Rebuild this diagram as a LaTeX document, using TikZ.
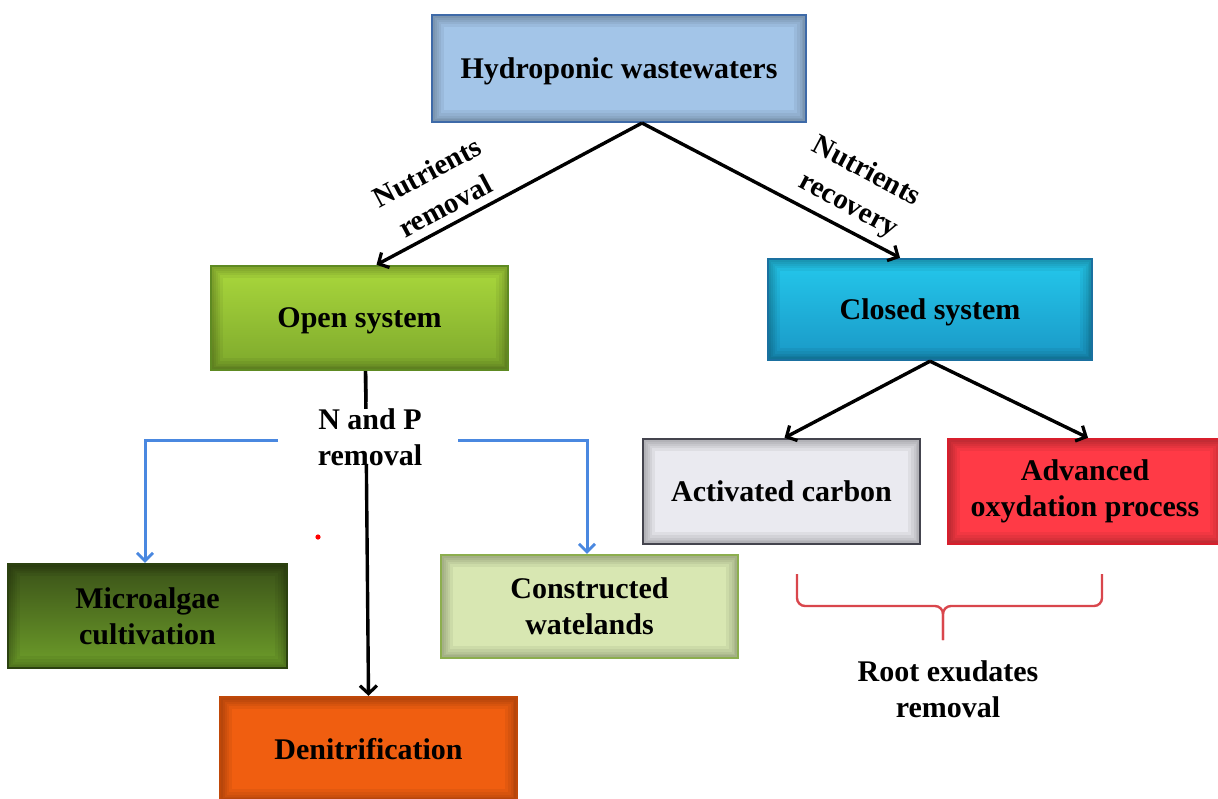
\documentclass[tikz,border=0pt]{standalone}
\usepackage{fontspec}
\setmainfont{Liberation Serif}
\usetikzlibrary{arrows.meta,calc}
\definecolor{hydrofill}{HTML}{A3C5E8}
\definecolor{hydrodraw}{HTML}{3E6AA8}
\definecolor{opentop}{HTML}{AAD83C}
\definecolor{openbot}{HTML}{7DA82C}
\definecolor{opendraw}{HTML}{5E8A22}
\definecolor{closedtop}{HTML}{24C8EC}
\definecolor{closedbot}{HTML}{1A98C6}
\definecolor{closeddraw}{HTML}{1A70A0}
\definecolor{actfill}{HTML}{EAEAF0}
\definecolor{actdraw}{HTML}{44444E}
\definecolor{advfill}{HTML}{FF3A46}
\definecolor{advdraw}{HTML}{D81E2C}
\definecolor{microtop}{HTML}{3A5118}
\definecolor{microbot}{HTML}{6E9E2A}
\definecolor{microdraw}{HTML}{2C4210}
\definecolor{consfill}{HTML}{D8E7B2}
\definecolor{consdraw}{HTML}{8CAE4E}
\definecolor{denfill}{HTML}{F05E10}
\definecolor{dendraw}{HTML}{C04808}
\definecolor{bluearrow}{HTML}{4A88E0}
\definecolor{bracered}{HTML}{D9464C}
\tikzset{
  box/.style={rectangle, line width=1.2pt, align=center, inner sep=2pt,
    font=\fontsize{15}{18}\selectfont\bfseries,
    path picture={
      \foreach \w in {12,9,6.5,4.5,3}{
        \draw[black, opacity=0.05, line width=\w pt] (path picture bounding box.south west) rectangle (path picture bounding box.north east);
      }
    }},
  lbl/.style={align=center, font=\fontsize{15}{18}\selectfont\bfseries, inner sep=1pt},
  rlbl/.style={align=center, font=\fontsize{14.5}{19}\selectfont\bfseries, inner sep=1pt},
  blk/.style={line width=1.7pt, -{Straight Barb[length=4pt,width=8.5pt,line width=1.6pt]}},
  blu/.style={line width=1.5pt, color=bluearrow, -{Straight Barb[length=4pt,width=8pt,line width=1.4pt]}},
  brace/.style={line width=1.2pt, color=bracered, rounded corners=4pt}
}
\begin{document}
\begin{tikzpicture}[x=0.5pt,y=-0.5pt]
\useasboundingbox (0,0) rectangle (1218,798);
\clip (0,0) rectangle (1218,798);
\fill[white] (0,0) rectangle (1218,798);

% boxes
\node[box, fill=hydrofill, draw=hydrodraw, minimum width=187pt, minimum height=53.5pt, text depth=0pt] (hydro) at (619,68.5) {Hydroponic wastewaters};
\node[box, top color=opentop, bottom color=openbot, draw=opendraw, minimum width=148.5pt, minimum height=52pt, text depth=0pt] (open) at (359.5,318) {Open system};
\node[box, top color=closedtop, bottom color=closedbot, draw=closeddraw, minimum width=162pt, minimum height=50.5pt, text depth=0pt] (closed) at (930,309.5) {Closed system};
\node[box, fill=actfill, draw=actdraw, minimum width=138.5pt, minimum height=52.5pt, text depth=0pt] (act) at (781.5,491.5) {Activated carbon};
\node[box, fill=advfill, draw=advdraw, minimum width=137pt, minimum height=52.5pt] (adv) at (1085,491.5) {Advanced\\oxydation process};
\node[box, top color=microtop, bottom color=microbot, draw=microdraw, minimum width=139.5pt, minimum height=52pt] (micro) at (147.5,616) {Microalgae\\cultivation};
\node[box, fill=consfill, draw=consdraw, minimum width=148.5pt, minimum height=51.5pt] (cons) at (589.5,606.5) {Constructed\\watelands};
\node[box, fill=denfill, draw=dendraw, minimum width=148.5pt, minimum height=52pt, text depth=0pt] (den) at (368.5,749) {Denitrification};

% arrows from hydroponic
\coordinate (hs) at (642,123);
\coordinate (opentip) at ($(open.north)+(17,0)$);
\coordinate (closedtip) at ($(closed.north)+(-30,0)$);
\draw[blk] (hs) -- (opentip);
\draw[blk] (hs) -- (closedtip);
\node[rlbl, rotate=28] (nrem) at (436,189) {Nutrients\\removal};
\node[rlbl, rotate=-28] (nrec) at (857,189) {Nutrients\\recovery};

% open system to denitrification
\coordinate (os) at ($(open.south)+(6,0)$);
\coordinate (dn) at ($(den.north)+(0,0)$);
\draw[blk] (os) -- (dn);
\node[lbl, fill=white, inner sep=0pt, text depth=0pt] (np) at (370,437) {N and P\\removal};
\draw[line width=1.7pt] (os) -- (366,402);

% blue branches
\coordinate (bl) at (278,440);
\coordinate (br) at (458,440);
\draw[blu] (bl) -| (micro.north -| 145,0);
\draw[blu] (br) -| (cons.north -| 587,0);

% closed system branches
\draw[blk] (closed.south) -- ($(act.north)+(3,0)$);
\draw[blk] (closed.south) -- ($(adv.north)+(3,0)$);

% brace
\coordinate (b1) at (797,574);
\coordinate (b2) at (1102,574);
\coordinate (bm) at (943,606);
\coordinate (bt) at (943,640);
\draw[brace] (b1) |- (bm) -- (bt);
\draw[brace] (b2) |- (bm) -- (bt);
\node[lbl] (root) at (948,689) {Root exudates\\removal};

% small red dot
\fill[red] (318,537) circle (1.3pt);
\end{tikzpicture}
\end{document}
